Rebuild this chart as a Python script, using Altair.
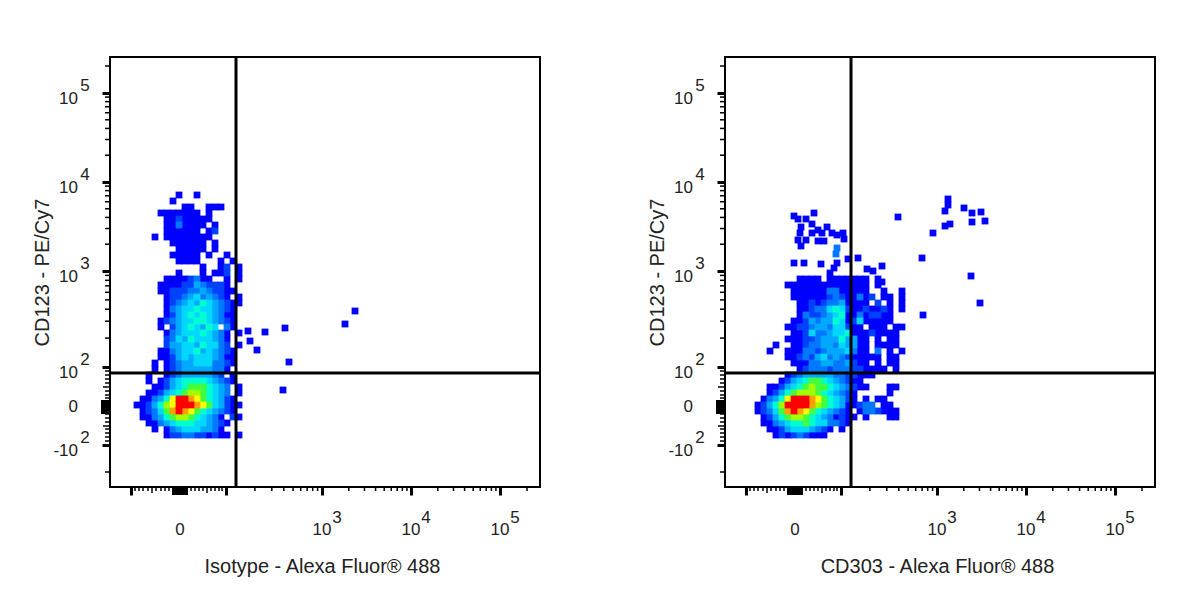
import math
import altair as alt
import pandas as pd

# density cells, one string per row of the plot, top to bottom
# . = no events, 1-9 a b = pseudo-colour level
iso_rows = [
    ".......1..1.......",
    "......1...........",
    "........11..111...",
    "....1111111.1.....",
    ".....11211111.....",
    ".....1131111.1....",
    ".....111111.12....",
    "...1.11111111.....",
    "......111111.1....",
    ".......11111.1....",
    "......11111.1..1..",
    ".......1111...1.1.",
    "...........1..12.1",
    ".......1...1.112.1",
    ".....11112311..1.1",
    "....111122432221..",
    "....1122233432211.",
    ".....12234534321.1",
    ".....1234546543211",
    ".....134556554321.",
    ".....124565654311.",
    "....1234556654321.",
    "....1.24565465.31.",
    ".....13455565431.1",
    ".....23546555431..",
    ".....24455465532.1",
    "....1134556454321.",
    "....1124545554311.",
    "...1.123445553321.",
    "...1.12344444331..",
    "..1..1234444432.1.",
    "..1.1245666654321.",
    "...1124567776543.1",
    "..11245678876543.1",
    ".113469bba9765421.",
    "1124689bbba9754211",
    ".12357aba97654321.",
    ".11346788765431.21",
    "..11345666554321..",
    "...1.1345554431...",
    ".....12233221211.1",
]
iso_out_x = [140, 155, 175, 147, 179, 173, 235, 245, 138]
iso_out_y = [146, 155, 159, 137, 125, 97, 163, 176, 156]
iso_out_level = ["1", "1", "1", "1", "1", "1", "1", "1", "1"]

cd303_rows = [
    "........1111.1111111.1",
    "......11111111111111.1",
    ".......1111113311111..1..1",
    ".......11111123211312.11.1",
    "........112123341111.2.1.1",
    "........1123356521121121.1",
    "........1322345611312211..",
    ".......11243446512511111.",
    "......1122344355211.111.11",
    ".......112533455611121111",
    "......11122344464411.1.11",
    "....1..1123344354411.1111",
    "...1..11133234445311.3.1.1",
    "......1123245343211111.11",
    ".......1113344334211.1.11",
    "........123332333221111.1",
    "......123444443322111",
    ".....12456776543211",
    "...11245678776543211...11",
    "...124678887654321.....1",
    "..13469bbba9765421.1.11",
    ".12468bbbba8765411233.11",
    ".12357aba97654321.1332111",
    "..1246788765431211.1...11",
    "..113456676553321",
    "...11245554321.1",
    "....121232111",
]
cd303_out_x = [173, 223, 223, 220, 239, 247, 256, 247, 260, 225, 220, 208, 197, 246, 255, 198,
               89, 69, 81, 73, 87, 76, 102, 93, 118, 75, 107, 97, 112, 87, 73, 81, 93, 99, 119, 76,
               112, 111, 69, 79, 96, 112, 133, 123, 142, 148, 157, 109, 105, 157, 140]
cd303_out_y = [270, 288, 282, 276, 279, 274, 275, 265, 266, 263, 261, 254, 229, 211, 184, 172,
               274, 271, 268, 268, 263, 260, 260, 257, 254, 254, 254, 254, 252, 254, 247, 247, 246, 246, 248, 241,
               239, 233, 224, 224, 223, 224, 229, 228, 218, 216, 221, 219, 214, 205, 202]
cd303_out_level = ["1"] * 36 + ["3", "3"] + ["1"] * 13

levels = ["1", "2", "3", "4", "5", "6", "7", "8", "9", "a", "b"]
level_colors = ["#0000ff", "#0040ff", "#0078ff", "#00a8ff", "#00d8ff", "#00ffd0",
                "#40ff40", "#a0ff00", "#ffff00", "#ffa000", "#ff0000"]

# tick places, in display channels along the biexponential axis
x_major = [21, 116, 212, 301, 390]
x_long = [42, 97]
x_near = [25, 29, 33, 38, 46, 51, 55, 59, 81, 85, 89, 93, 101, 105, 109, 112]
x_block = [63, 65, 67, 69, 71, 73, 75, 77]
x_labels = ["0", "10", "10", "10"]
x_label_at = [70, 212, 301, 390]
x_exp = ["3", "4", "5"]
x_exp_at = [212, 301, 390]

y_major = [42, 120, 216, 305, 394]
y_long = [61, 100]
y_near = [46, 50, 54, 58, 65, 69, 73, 89, 92, 96, 104, 108, 112, 116]
y_block = [74, 76, 78, 80, 82, 84, 86]
y_labels = ["-10", "10", "10", "10", "10"]
y_label_at = [42, 120, 216, 305, 394]
y_exp = ["2", "2", "3", "4", "5"]
y_exp_at = [42, 120, 216, 305, 394]
y_zero = [80]

# decades as (start channel, channels per decade)
x_decades = [(116, 96), (212, 89), (301, 89)]
y_decades = [(120, 96), (216, 89), (305, 89)]
x_extra = [417]
y_extra = [15, 421]


def decade_ticks(decades):
    out = []
    for start, span in decades:
        out += [start + span * math.log10(k) for k in range(2, 10)]
    return out


font = "Liberation Sans"


def panel(rows, top, out_x, out_y, out_level, x_title):
    cells = []
    for r, row in enumerate(rows):
        for c, ch in enumerate(row):
            if ch in levels:
                cells.append({"x": 27 + 6 * c, "y": top - 6 * r, "level": ch})
    for a, b, lev in zip(out_x, out_y, out_level):
        cells.append({"x": a, "y": b, "level": lev})
    cells = pd.DataFrame(cells)
    cells["rank"] = cells["level"].map(levels.index)

    x_axis = alt.Axis(values=x_major, labels=False, grid=False, domain=False, tickSize=8, tickWidth=3,
                      tickColor="black", title=x_title, titleFont=font, titleFontSize=20,
                      titleFontWeight="normal", titleColor="#222222", titlePadding=60, titleX=212)
    y_axis = alt.Axis(values=y_major, labels=False, grid=False, domain=False, tickSize=8, tickWidth=3,
                      tickColor="black", title="CD123 - PE/Cy7", titleFont=font, titleFontSize=20,
                      titleFontWeight="normal", titleColor="#222222", titlePadding=48)
    x_scale = alt.Scale(domain=[0, 430], nice=False, zero=False)
    y_scale = alt.Scale(domain=[0, 430], nice=False, zero=False)
    X = alt.X("x:Q", scale=x_scale, axis=x_axis)
    Y = alt.Y("y:Q", scale=y_scale, axis=y_axis)

    dots = alt.Chart(cells).mark_square(size=46, opacity=1).encode(
        x=X, y=Y,
        color=alt.Color("level:N", scale=alt.Scale(domain=levels, range=level_colors), legend=None),
        order="rank:Q",
    )

    gate_x = alt.Chart(pd.DataFrame({"x": [126]})).mark_rule(color="black", strokeWidth=3).encode(x=X)
    gate_y = alt.Chart(pd.DataFrame({"y": [114]})).mark_rule(color="black", strokeWidth=3).encode(y=Y)

    def x_ticks(vals, size, w):
        return alt.Chart(pd.DataFrame({"x": vals})).mark_rule(color="black", strokeWidth=w).encode(
            x=X, y=alt.value(430), y2=alt.value(430 + size))

    def y_ticks(vals, size, w):
        return alt.Chart(pd.DataFrame({"y": vals})).mark_rule(color="black", strokeWidth=w).encode(
            y=Y, x=alt.value(0), x2=alt.value(-size))

    ticks = [
        x_ticks(decade_ticks(x_decades) + x_near + x_extra, 4, 1.5),
        x_ticks(x_long, 6, 1.5),
        x_ticks(x_block, 8, 2),
        y_ticks(decade_ticks(y_decades) + y_near + y_extra, 5, 1.5),
        y_ticks(y_long, 7, 1.5),
        y_ticks(y_block, 9, 2),
    ]

    text = dict(font=font, fontSize=17, color="#222222")
    x_text = alt.Chart(pd.DataFrame({"x": x_label_at, "t": x_labels})).mark_text(**text).encode(
        x=X, y=alt.value(473), text="t:N")
    x_sup = alt.Chart(pd.DataFrame({"x": x_exp_at, "t": x_exp})).mark_text(dx=15, **text).encode(
        x=X, y=alt.value(461), text="t:N")
    y_text = alt.Chart(pd.DataFrame({"y": y_label_at, "t": y_labels})).mark_text(align="right", dy=6, **text).encode(
        y=Y, x=alt.value(-32), text="t:N")
    y_0 = alt.Chart(pd.DataFrame({"y": y_zero, "t": ["0"]})).mark_text(align="right", **text).encode(
        y=Y, x=alt.value(-32), text="t:N")
    y_sup = alt.Chart(pd.DataFrame({"y": y_exp_at, "t": y_exp})).mark_text(dy=-7, **text).encode(
        y=Y, x=alt.value(-25), text="t:N")

    return alt.layer(dots, gate_x, gate_y, *ticks, x_text, x_sup, y_text, y_0, y_sup).properties(
        width=430, height=430, view=alt.ViewBackground(stroke="black", strokeWidth=2))


left = panel(iso_rows, 292, iso_out_x, iso_out_y, iso_out_level, "Isotype - Alexa Fluor® 488")
right = panel(cd303_rows, 208, cd303_out_x, cd303_out_y, cd303_out_level, "CD303 - Alexa Fluor® 488")

chart = alt.hconcat(left, right, spacing=103).properties(
    padding={"left": 23, "top": 46, "right": 5, "bottom": 5}
).configure(background="white")

chart.save("out.html", embed_options={"renderer": "svg", "actions": False})
